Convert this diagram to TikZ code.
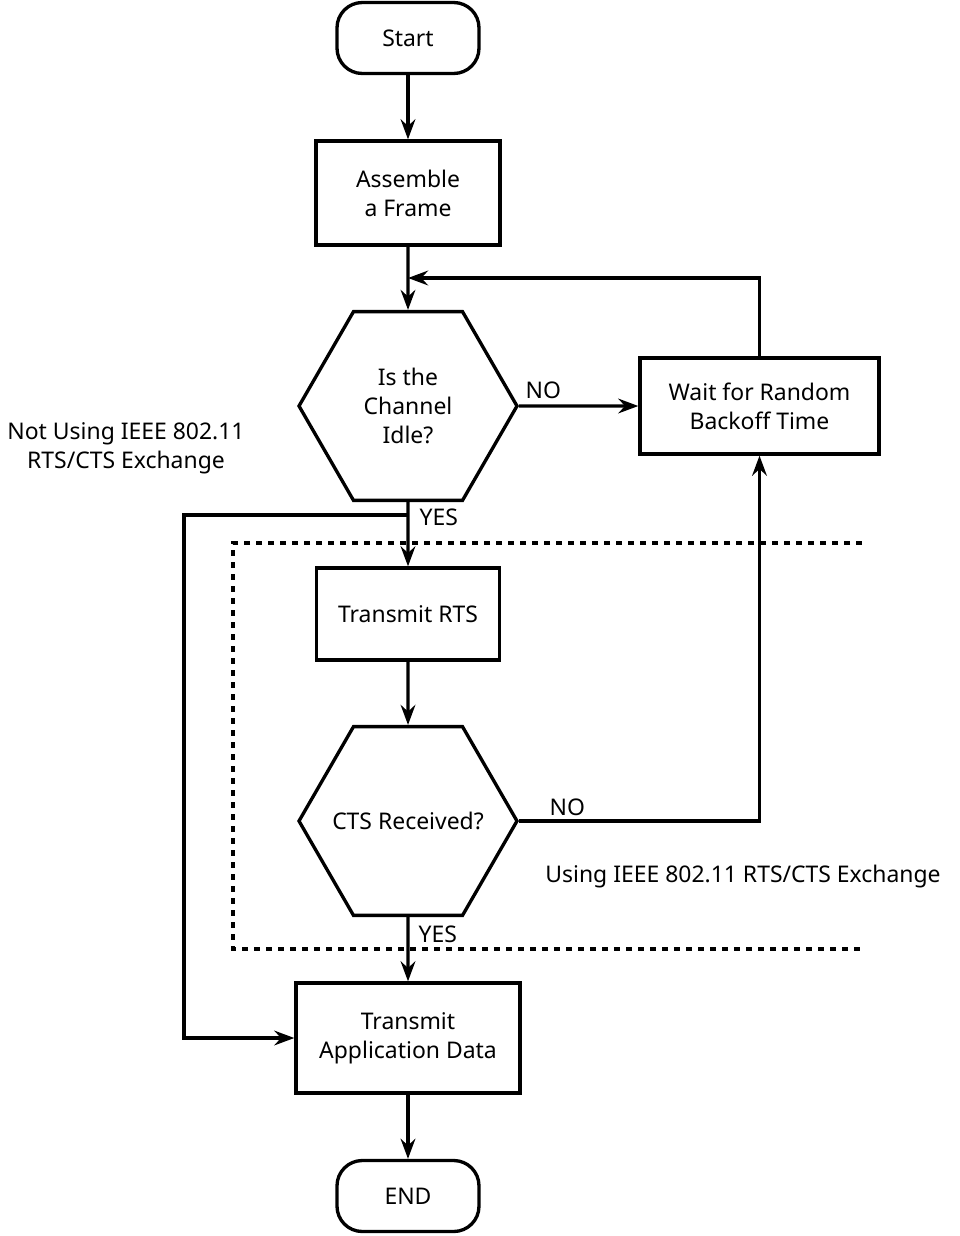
\documentclass[tikz,border=0pt]{standalone}
\usepackage{fontspec}
\setmainfont{Noto Sans}
\usetikzlibrary{arrows.meta,shapes.geometric}
\begin{document}
\begin{tikzpicture}[x=0.75pt,y=-0.75pt,line width=2.5pt,>={Stealth[length=15pt,width=11pt,inset=5pt]},
    font=\fontsize{17.2}{21.75}\selectfont,
    term/.style={draw,rounded corners=19pt,minimum width=106.5pt,minimum height=53.25pt,inner sep=0pt},
    proc/.style={draw,align=center,inner sep=0pt},
    decide/.style={draw,regular polygon,regular polygon sides=6,minimum size=163.5pt,inner sep=-15pt,align=center},
    lbl/.style={inner sep=0pt,align=center}]
    \useasboundingbox (0,0) rectangle (960,1236);
    % flow nodes
    \node [term] (start) at (408,38) {Start};
    \node [proc,minimum width=138pt,minimum height=78pt] (frame) at (408,193) {Assemble\\a Frame};
    \node [decide] (idle) at (408,406) {Is the\\Channel\\Idle?};
    \node [proc,minimum width=179.25pt,minimum height=72pt] (wait) at (759.5,406) {Wait for Random\\Backoff Time};
    \node [proc,minimum width=137.25pt,minimum height=69pt] (rts) at (408,614) {Transmit RTS};
    \node [decide] (cts) at (408,821) {CTS Received?};
    \node [proc,minimum width=168pt,minimum height=82.5pt] (data) at (408,1038) {Transmit\\Application Data};
    \node [term] (end) at (408,1196) {END};
    % region of the exchange
    \draw [line width=2.3pt,dash pattern=on 4.5pt off 4.5pt] (862,543) -- (233,543) -- (233,949) -- (862,949);
    \node [lbl] (notusing) at (126,448) {Not Using IEEE 802.11\\RTS/CTS Exchange};
    \node [lbl] (using) at (743,877) {Using IEEE 802.11 RTS/CTS Exchange};
    % answers
    \node [lbl,anchor=base west] (no1) at (524,398) {NO};
    \node [lbl,anchor=base west] (no2) at (548,815) {NO};
    \node [lbl,anchor=west] (yes1) at (418,517) {YES};
    \node [lbl,anchor=west] (yes2) at (417,934) {YES};
    % connectors
    \coordinate (loop) at (408,278);
    \coordinate (split) at (408,515);
    \draw [->] (start) -- (frame);
    \draw [->] (frame) -- (idle);
    \draw [->] (idle.east) -- (wait);
    \draw [->] (wait.north) |- (loop);
    \draw [->] (idle.south) -- (rts);
    \draw [->] (rts) -- (cts);
    \draw [->] (cts.east) -| (wait.south);
    \draw [->] (cts.south) -- (data);
    \draw [->] (split) -| (184,800) |- (data.west);
    \draw [->] (data) -- (end);
\end{tikzpicture}
\end{document}
